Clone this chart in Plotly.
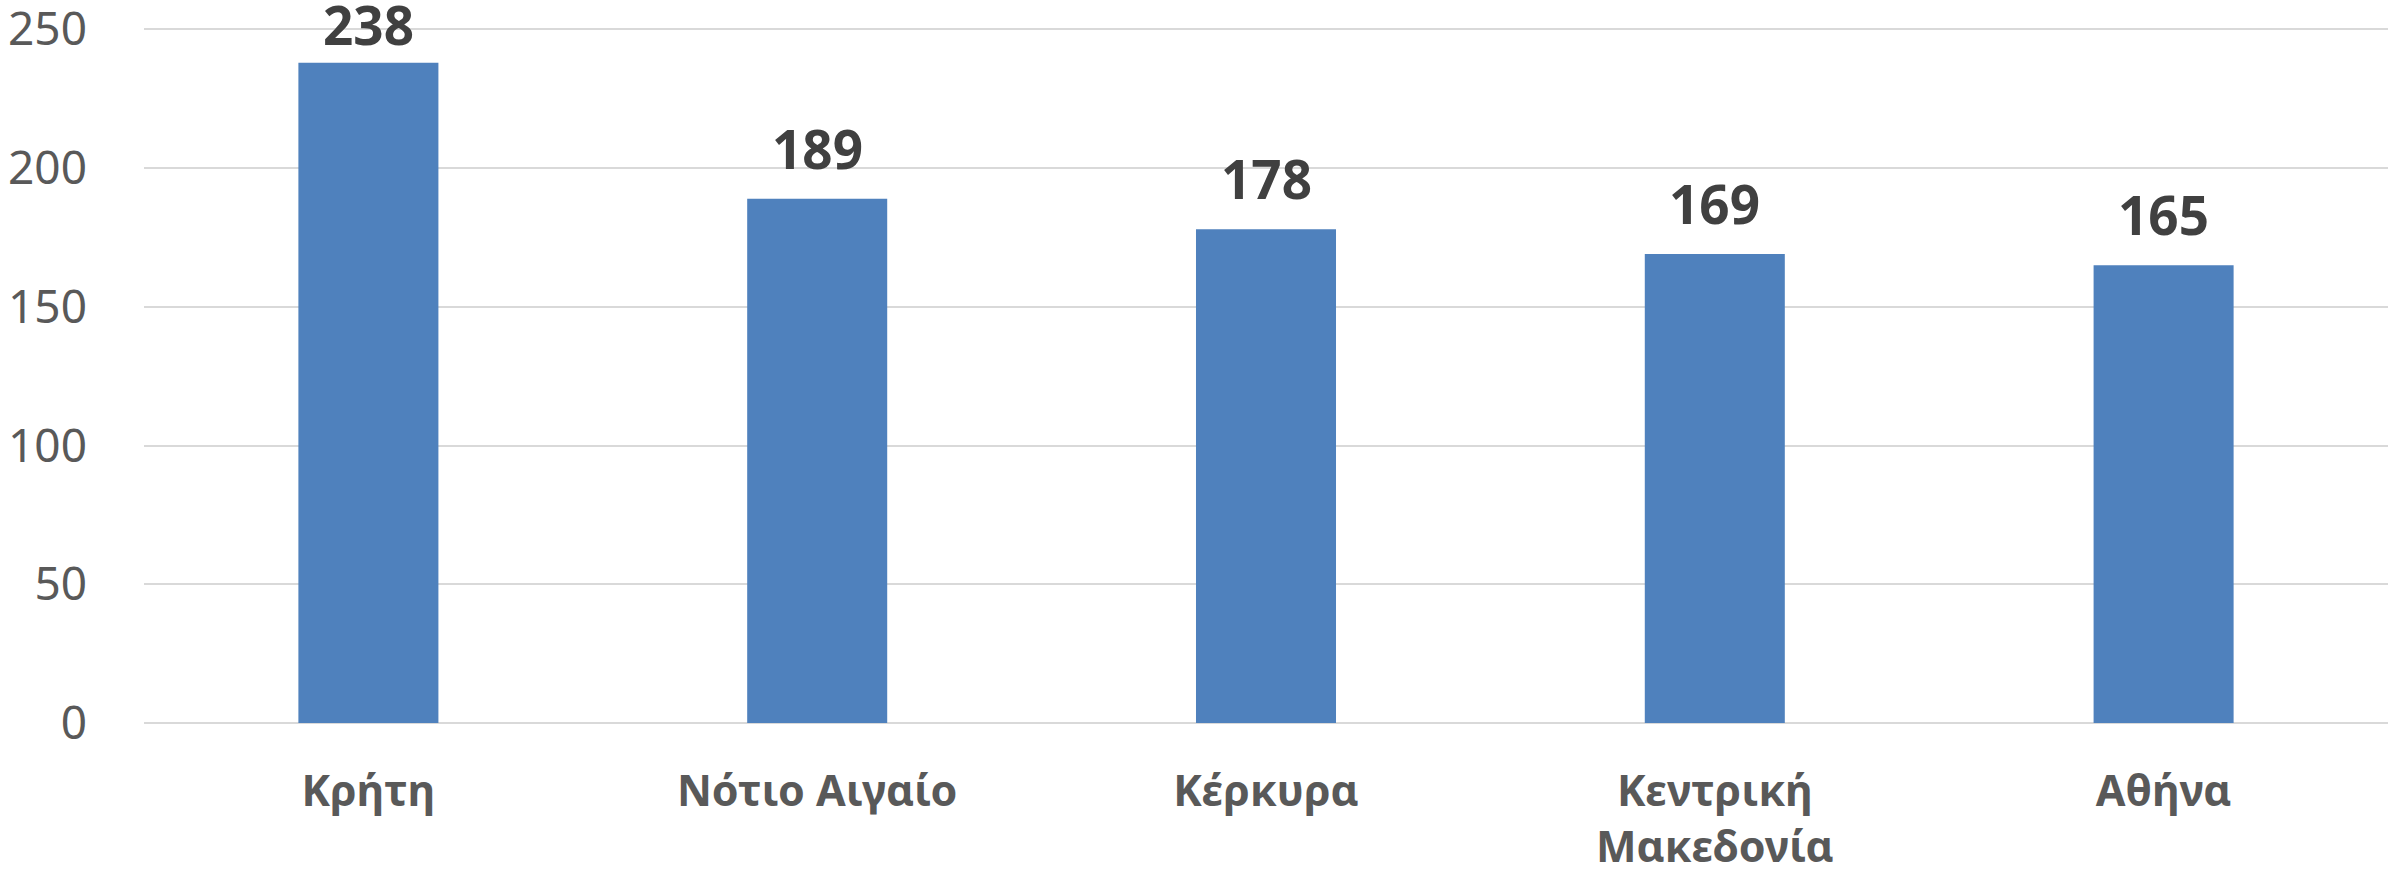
import plotly.graph_objects as go

regions = ["Κρήτη", "Νότιο Αιγαίο", "Κέρκυρα", "Κεντρική<br>Μακεδονία", "Αθήνα"]
values = [238, 189, 178, 169, 165]
y_ticks = [0, 50, 100, 150, 200, 250]

FONT = "Noto Sans"

fig = go.Figure(
    go.Bar(
        x=regions,
        y=values,
        marker=dict(color="#4f81bd", line=dict(width=0)),
        hoverinfo="x+y",
    )
)

# value labels above bars
for r, v in zip(regions, values):
    fig.add_annotation(
        x=r, y=v, text=f"<b>{v}</b>",
        showarrow=False, yanchor="bottom",
        yshift=12 if v < max(values) else 0,
        font=dict(family=FONT, size=53, color="#404040"),
    )

fig.update_layout(
    width=2394,
    height=879,
    margin=dict(l=144, r=6, t=28, b=156, autoexpand=False),
    paper_bgcolor="white",
    plot_bgcolor="white",
    bargap=0.688,
    showlegend=False,
    font=dict(family=FONT),
)

fig.update_yaxes(
    range=[0, 250.5],
    tickvals=y_ticks,
    showgrid=True,
    gridcolor="#d9d9d9",
    gridwidth=2,
    zeroline=True,
    zerolinecolor="#d9d9d9",
    zerolinewidth=2,
    tickfont=dict(family=FONT, size=46, color="#595959"),
    ticklabelstandoff=56,
    ticklabeloverflow="allow",
    automargin=False,
    showline=False,
)

fig.update_xaxes(
    tickfont=dict(family=FONT, size=43, color="#595959", weight="bold"),
    ticklabelstandoff=39,
    ticklabeloverflow="allow",
    automargin=False,
    showline=False,
    showgrid=False,
)

# remove the default page margin so the figure fills the window exactly
fig.write_html(
    "out.html",
    config={"displayModeBar": False},
    post_script="document.body.style.margin='0';document.body.style.overflow='hidden';",
)
